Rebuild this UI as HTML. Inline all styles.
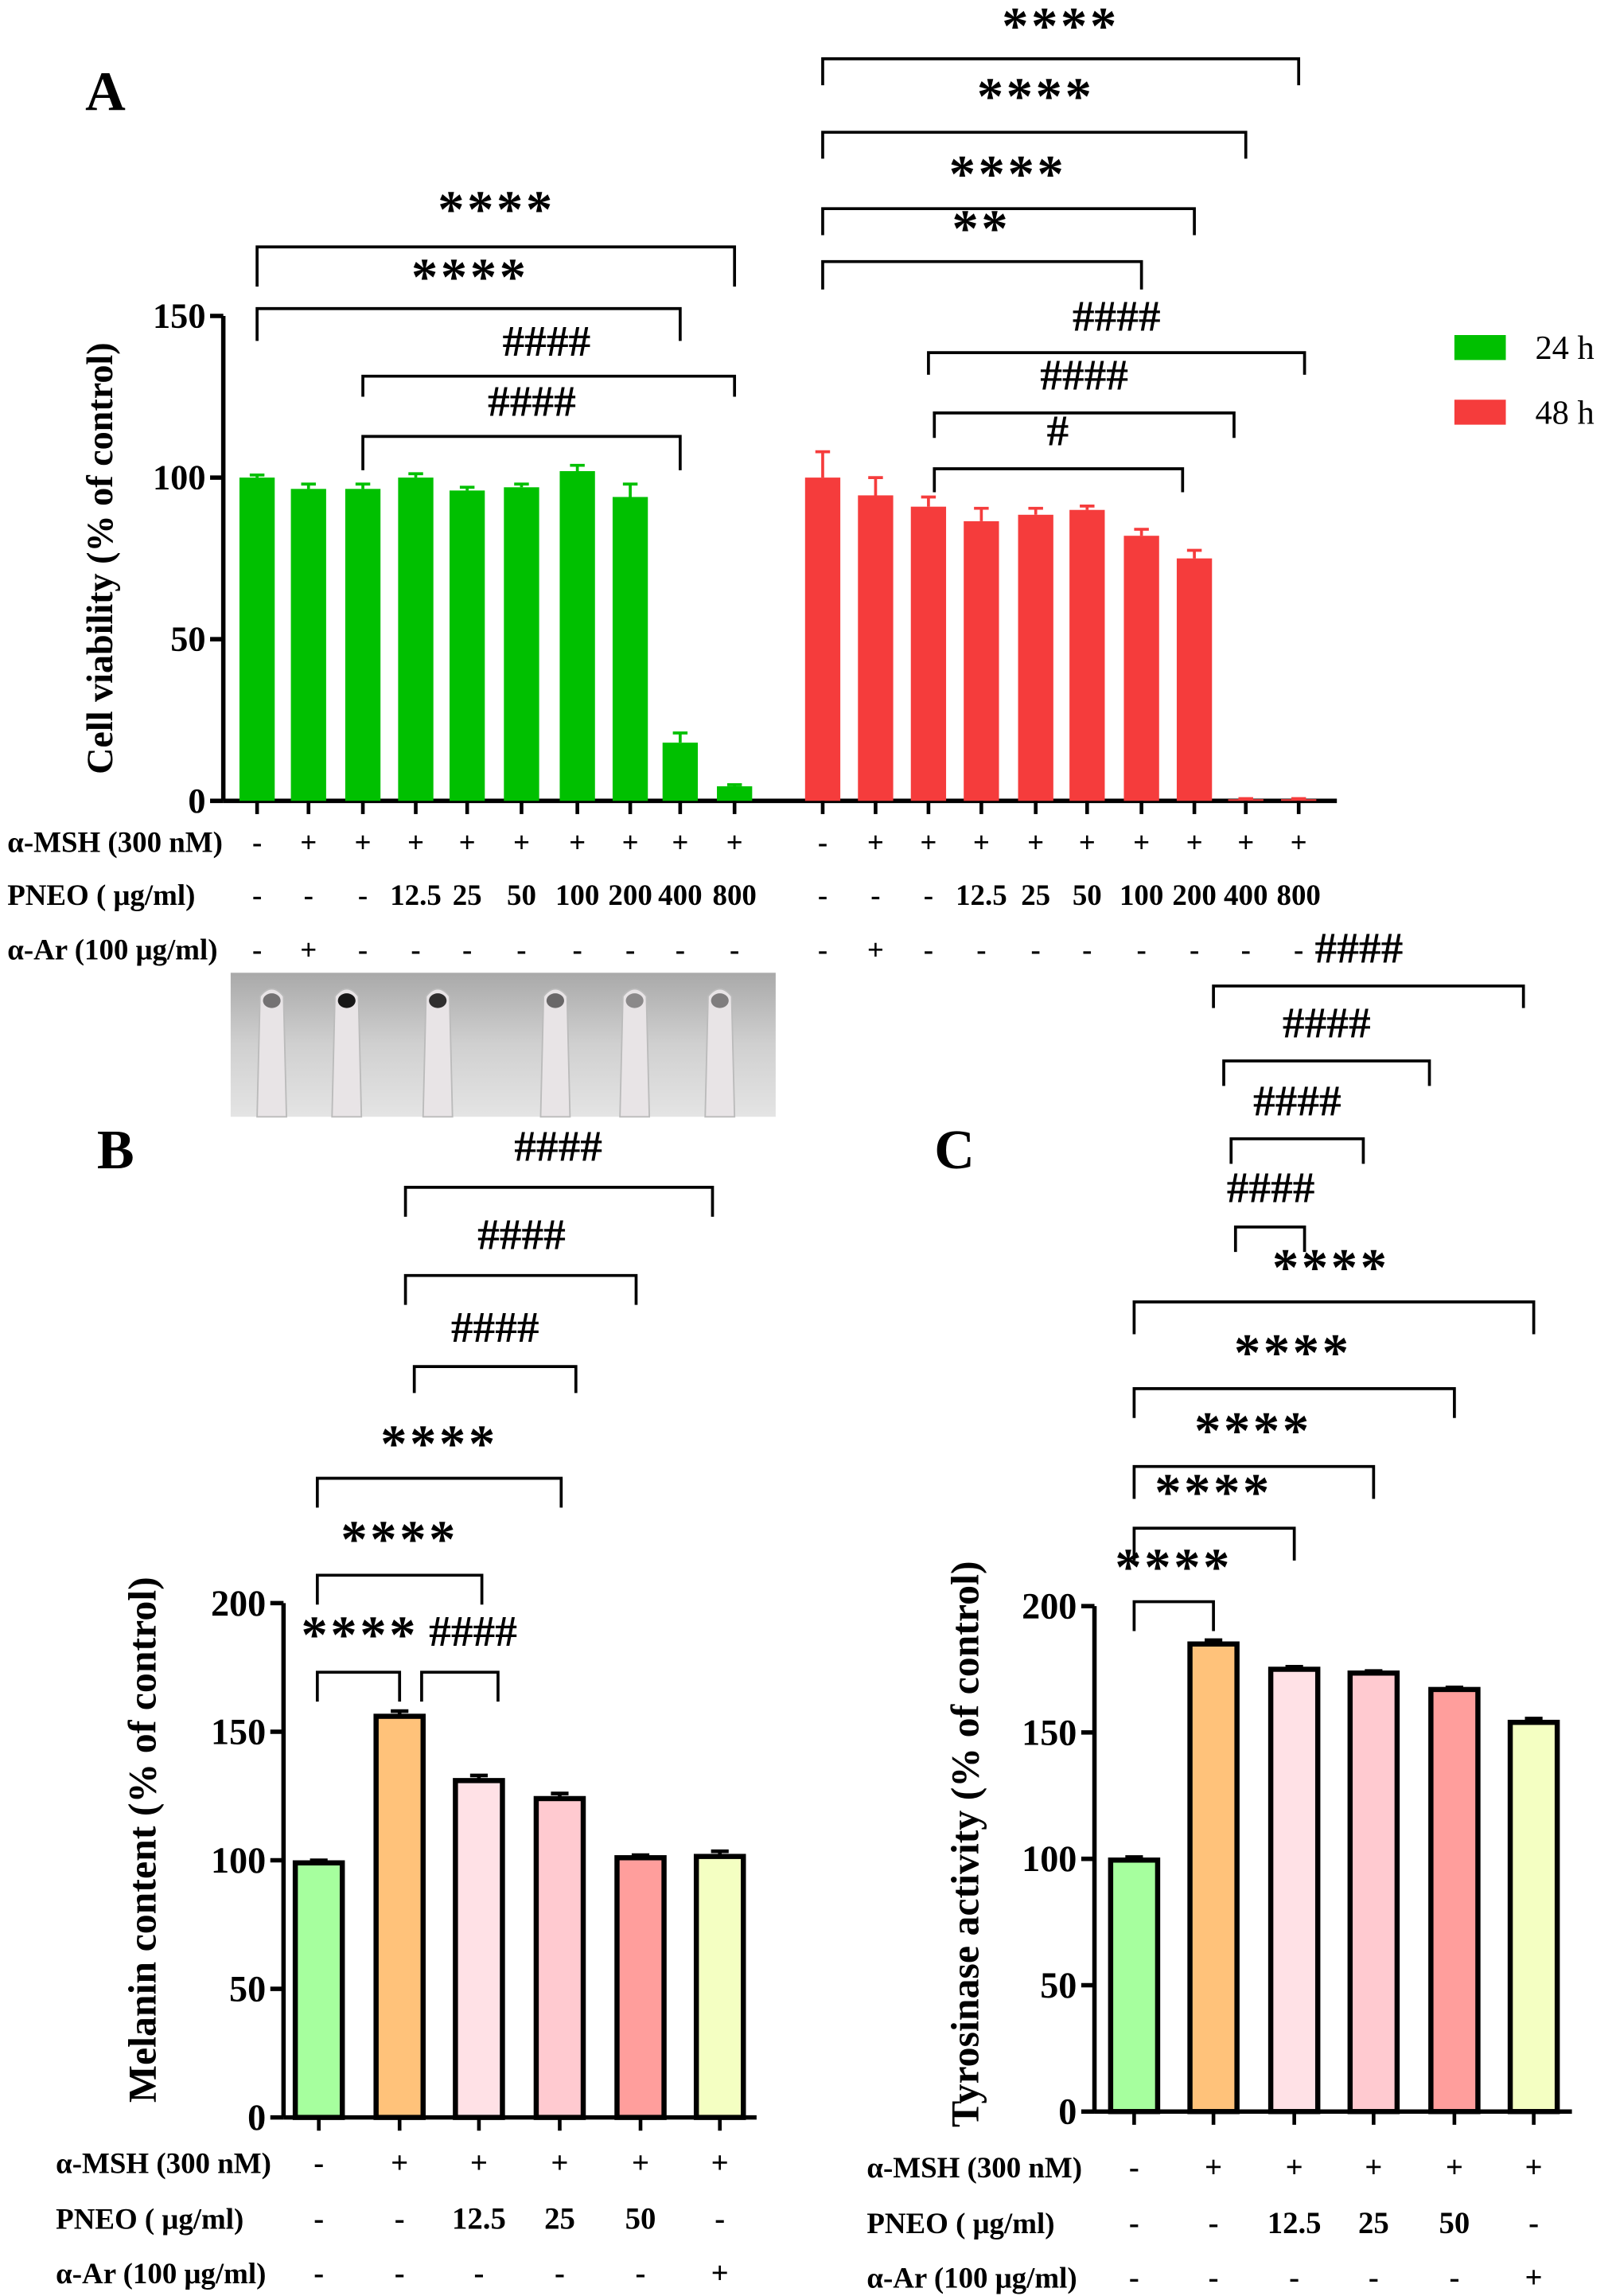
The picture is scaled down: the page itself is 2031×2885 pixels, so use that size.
<!DOCTYPE html>
<html><head><meta charset="utf-8">
<style>
html,body{margin:0;padding:0;background:#fff;}
svg{display:block;font-family:"Liberation Serif",serif;font-weight:bold;}
</style></head>
<body>
<svg id="fig" width="2031" height="2885" viewBox="0 0 1100 1562.5" xmlns="http://www.w3.org/2000/svg">
<rect x="0" y="0" width="1100" height="1562.5" fill="#fff"/>
<defs>
<linearGradient id="photoG" x1="0" y1="0" x2="0" y2="1">
<stop offset="0" stop-color="#a9a9a9"/><stop offset="0.5" stop-color="#d0d0d0"/><stop offset="1" stop-color="#e4e4e4"/>
</linearGradient>
</defs>
<g>
<rect x="157" y="662" width="371" height="98" fill="url(#photoG)"/>
</g>
<text x="58" y="75" font-size="38">A</text>
<text x="66" y="795" font-size="38">B</text>
<text x="636" y="795" font-size="38">C</text>
<g id="root"></g>
</svg>
<script>
// ---------- Panel A data ----------
const aTicks = [0, 50, 100, 150];
const a24Values = [100, 96.5, 96.5, 100, 96, 97, 102, 94, 18, 4.5];
const a24Errors = [0.8, 1.5, 1.5, 1.2, 1, 1, 1.8, 4, 3, 0.5];
const a48Values = [100, 94.5, 91, 86.5, 88.5, 90, 82, 75, 0.5, 0.5];
const a48Errors = [8, 5.5, 3, 4, 2, 1.2, 2, 2.5, 0.2, 0.2];
const aMsh = ['-', '+', '+', '+', '+', '+', '+', '+', '+', '+'];
const aPneo = ['-', '-', '-', '12.5', '25', '50', '100', '200', '400', '800'];
const aAr = ['-', '+', '-', '-', '-', '-', '-', '-', '-', '-'];
// ---------- Panel B data ----------
const bTicks = [0, 50, 100, 150, 200];
const bValues = [99, 156, 131, 124, 101, 101.5];
const bErrors = [1, 2, 2, 2, 1, 2];
// ---------- Panel C data ----------
const cTicks = [0, 50, 100, 150, 200];
const cValues = [99.5, 185, 175, 173.5, 167, 154];
const cErrors = [1.2, 1.5, 1, 0.8, 0.8, 1.5];
const bcMsh = ['-', '+', '+', '+', '+', '+'];
const bcPneo = ['-', '-', '12.5', '25', '50', '-'];
const bcAr = ['-', '-', '-', '-', '-', '+'];
const bcColors = ['#a6ff9e', '#ffc27a', '#ffe1e6', '#ffcad0', '#ff9e9c', '#f4ffc2'];

const NS = 'http://www.w3.org/2000/svg';
const root = document.getElementById('root');
function mk(tag, attrs, parent, text) {
  const e = document.createElementNS(NS, tag);
  for (const k in attrs) e.setAttribute(k, attrs[k]);
  if (text !== undefined) e.textContent = text;
  (parent || root).appendChild(e);
  return e;
}
function txt(x, y, s, size, anchor, name, extra) {
  const t = mk('text', Object.assign({x: x, y: y, 'font-size': size, 'text-anchor': anchor || 'middle', 'dominant-baseline': 'central'}, extra || {}), root, s);
  
  
  return t;
}
function bracket(x1, x2, yTop, yBot, label, lx, ly, size, name) {
  const p = mk('path', {d: `M${x1},${yBot} L${x1},${yTop} L${x2},${yTop} L${x2},${yBot}`, fill: 'none', stroke: '#000', 'stroke-width': 2});
  
  
  if (label) {
    if (label.indexOf('*') >= 0) txt(lx, ly + 3, label, 36, 'middle', name + '-label', {'letter-spacing': '2'});
    else txt(lx, ly, label, 30, 'middle', name + '-label');
  }
}

// ----- photo tubes -----
const tubeX = [185, 236, 298, 378, 432, 490];
const tubeDark = [0.5, 0.9, 0.8, 0.55, 0.4, 0.45];
tubeX.forEach((x, i) => {
  const g = mk('path', {d: `M${x-10},760 L${x-8},678 Q${x},668 ${x+8},678 L${x+10},760 Z`, fill: '#e8e4e6', stroke: '#bbb', 'stroke-width': 1});
  
  
  const c = mk('ellipse', {cx: x, cy: 681, rx: 6, ry: 5, fill: '#000', 'fill-opacity': tubeDark[i]});
  
  
});

// ===== Panel A =====
const yA = v => 545 - v * 2.2;
const a24X = [175, 210, 247, 283, 318, 355, 393, 429, 463, 500];
const a48X = [560, 596, 632, 668, 705, 740, 777, 813, 848, 884];
const aAxisX = 152;
let l = mk('line', {x1: aAxisX, y1: yA(150), x2: aAxisX, y2: yA(0), stroke: '#000', 'stroke-width': 3});
 
l = mk('line', {x1: aAxisX, y1: yA(0), x2: 910, y2: yA(0), stroke: '#000', 'stroke-width': 3});
 
aTicks.forEach(v => {
  const t = mk('line', {x1: aAxisX - 9, y1: yA(v), x2: aAxisX, y2: yA(v), stroke: '#000', 'stroke-width': 3});
   
  txt(aAxisX - 12, yA(v), String(v), 24, 'end', 'a-y-tick-label');
});
txt(68, 380, 'Cell viability (% of control)', 25, 'middle', 'a-y-axis-title', {transform: 'rotate(-90 68 380)'});
function barsA(xs, vals, errs, color, name) {
  xs.forEach((x, i) => {
    const w = 24, top = yA(vals[i]);
    const r = mk('rect', {x: x - w / 2, y: top, width: w, height: yA(0) - top, fill: color});
     
    const et = yA(vals[i] + errs[i]);
    const e = mk('path', {d: `M${x},${top} L${x},${et} M${x-5},${et} L${x+5},${et}`, stroke: color, 'stroke-width': 2, fill: 'none'});
     
    const tk = mk('line', {x1: x, y1: yA(0), x2: x, y2: yA(0) + 9, stroke: '#000', 'stroke-width': 2.5});
     
  });
}
barsA(a24X, a24Values, a24Errors, '#00c000', 'a-24h');
barsA(a48X, a48Values, a48Errors, '#f53c3c', 'a-48h');
txt(5, 573, 'α-MSH (300 nM)', 20, 'start', 'a-row-label-msh');
txt(5, 609, 'PNEO ( μg/ml)', 20, 'start', 'a-row-label-pneo');
txt(5, 646, 'α-Ar (100 μg/ml)', 20, 'start', 'a-row-label-ar');
[a24X, a48X].forEach(xs => {
  xs.forEach((x, i) => {
    txt(x, 573, aMsh[i], 20, 'middle', 'a-msh-value');
    txt(x, 609, aPneo[i], 20, 'middle', 'a-pneo-value');
    txt(x, 646, aAr[i], 20, 'middle', 'a-ar-value');
  });
});
// legend
let lg = mk('rect', {x: 990, y: 228, width: 35, height: 17, fill: '#00c000'});
 
txt(1045, 237, '24 h', 23, 'start', 'legend-label-24h', {'font-weight': 'normal'});
lg = mk('rect', {x: 990, y: 272, width: 35, height: 17, fill: '#f53c3c'});
 
txt(1045, 281, '48 h', 23, 'start', 'legend-label-48h', {'font-weight': 'normal'});
// brackets A
bracket(175, 500, 168, 195, '****', 338, 140, 28, 'a-sig-0-800');
bracket(175, 463, 210, 232, '****', 320, 186, 28, 'a-sig-0-400');
bracket(247, 500, 256, 270, '####', 372, 232, 24, 'a-hash-800');
bracket(247, 463, 297, 320, '####', 362, 273, 24, 'a-hash-400');
bracket(560, 884, 40, 58, '****', 722, 15, 28, 'a48-sig-800');
bracket(560, 848, 90, 108, '****', 705, 63, 28, 'a48-sig-400');
bracket(560, 813, 142, 160, '****', 686, 116, 28, 'a48-sig-200');
bracket(560, 777, 178, 197, '**', 668, 153, 28, 'a48-sig-100');
bracket(632, 888, 240, 255, '####', 760, 215, 24, 'a48-hash-800');
bracket(636, 840, 281, 298, '####', 738, 255, 24, 'a48-hash-400');
bracket(636, 805, 319, 335, '#', 720, 293, 24, 'a48-hash-200');

// ===== Panels B and C =====
function panelBC(p) {
  const y = v => p.y0 - v * p.k;
  let a = mk('line', {x1: p.ax, y1: y(200), x2: p.ax, y2: y(0), stroke: '#000', 'stroke-width': 3});
   
  a = mk('line', {x1: p.ax, y1: y(0), x2: p.xEnd, y2: y(0), stroke: '#000', 'stroke-width': 3});
   
  p.ticks.forEach(v => {
    const t = mk('line', {x1: p.ax - 9, y1: y(v), x2: p.ax, y2: y(v), stroke: '#000', 'stroke-width': 3});
     
    txt(p.ax - 12, y(v), String(v), 25, 'end', p.n + '-y-tick-label');
  });
  txt(p.titleX, p.titleY, p.title, 27, 'middle', p.n + '-y-axis-title', {transform: `rotate(-90 ${p.titleX} ${p.titleY})`});
  p.xs.forEach((x, i) => {
    const w = 32, top = y(p.vals[i]);
    const et = y(p.vals[i] + p.errs[i]);
    const e = mk('path', {d: `M${x},${top} L${x},${et} M${x-6},${et} L${x+6},${et}`, stroke: '#000', 'stroke-width': 2.5, fill: 'none'});
     
    const r = mk('rect', {x: x - w / 2, y: top, width: w, height: y(0) - top, fill: bcColors[i], stroke: '#000', 'stroke-width': 3.5});
     
    const tk = mk('line', {x1: x, y1: y(0), x2: x, y2: y(0) + 9, stroke: '#000', 'stroke-width': 2.5});
     
    txt(x, p.rows[0], bcMsh[i], 21, 'middle', p.n + '-msh-value');
    txt(x, p.rows[1], bcPneo[i], 21, 'middle', p.n + '-pneo-value');
    txt(x, p.rows[2], bcAr[i], 21, 'middle', p.n + '-ar-value');
  });
  txt(p.lx, p.rows[0], 'α-MSH (300 nM)', 20, 'start', p.n + '-row-label-msh');
  txt(p.lx, p.rows[1], 'PNEO ( μg/ml)', 20, 'start', p.n + '-row-label-pneo');
  txt(p.lx, p.rows[2], 'α-Ar (100 μg/ml)', 20, 'start', p.n + '-row-label-ar');
}
panelBC({n: 'b', y0: 1441, k: 1.75, ax: 193, xEnd: 515, ticks: bTicks, vals: bValues, errs: bErrors,
  xs: [217, 272, 326, 381, 436, 490], rows: [1472, 1510, 1547], lx: 38,
  title: 'Melanin content (% of control)', titleX: 97, titleY: 1252});
panelBC({n: 'c', y0: 1437, k: 1.72, ax: 745, xEnd: 1070, ticks: cTicks, vals: cValues, errs: cErrors,
  xs: [772, 826, 881, 935, 990, 1044], rows: [1475, 1513, 1550], lx: 590,
  title: 'Tyrosinase activity (% of control)', titleX: 657, titleY: 1255});

// brackets B
bracket(276, 485, 808, 828, '####', 380, 780, 24, 'b-hash-ar');
bracket(276, 433, 868, 888, '####', 355, 840, 24, 'b-hash-50');
bracket(282, 392, 930, 948, '####', 337, 903, 24, 'b-hash-25');
bracket(216, 382, 1006, 1026, '****', 299, 980, 28, 'b-sig-25');
bracket(216, 328, 1072, 1092, '****', 272, 1045, 28, 'b-sig-12');
bracket(216, 272, 1138, 1158, '****', 245, 1110, 28, 'b-sig-msh');
bracket(287, 339, 1138, 1158, '####', 322, 1110, 24, 'b-hash-12');
// brackets C
bracket(826, 1037, 671, 686, '####', 925, 645, 24, 'c-hash-ar');
bracket(833, 973, 722, 739, '####', 903, 696, 24, 'c-hash-50');
bracket(838, 928, 775, 792, '####', 883, 749, 24, 'c-hash-25');
bracket(841, 888, 835, 852, '####', 865, 808, 24, 'c-hash-12');
bracket(772, 1044, 886, 908, '****', 906, 860, 28, 'c-sig-ar');
bracket(772, 990, 945, 965, '****', 880, 918, 28, 'c-sig-50');
bracket(772, 935, 998, 1020, '****', 853, 971, 28, 'c-sig-25');
bracket(772, 881, 1040, 1062, '****', 826, 1013, 28, 'c-sig-12');
bracket(772, 826, 1090, 1110, '****', 799, 1064, 28, 'c-sig-msh');
</script>
</body></html>
